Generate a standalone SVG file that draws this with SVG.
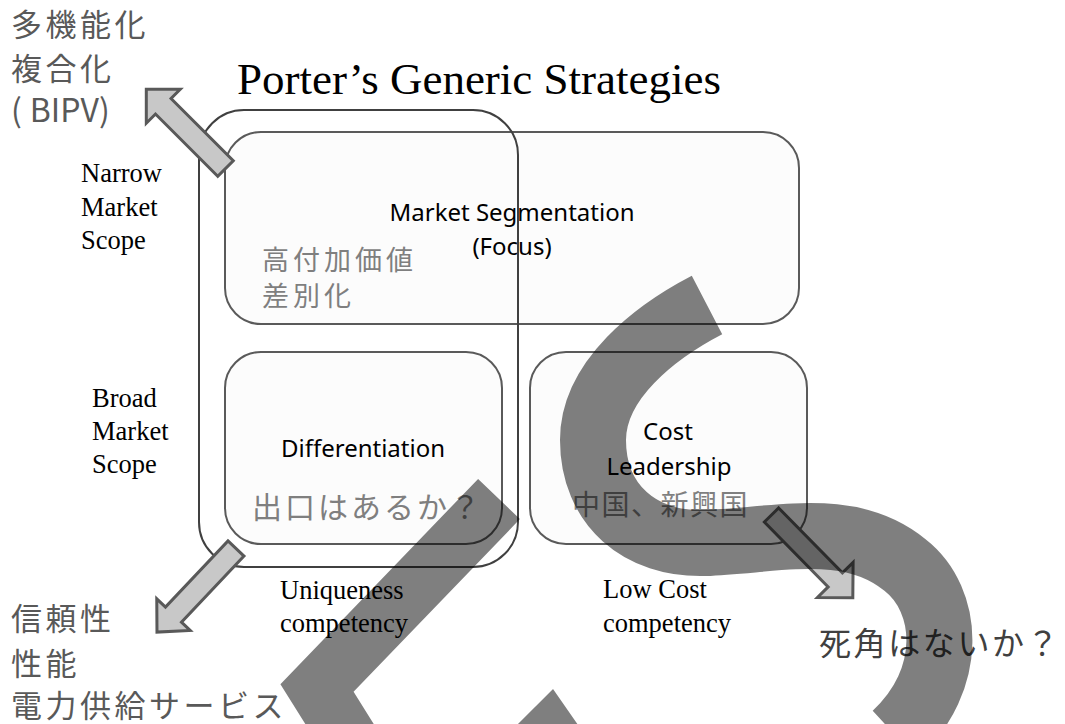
<svg xmlns="http://www.w3.org/2000/svg" width="1065" height="724" viewBox="0 0 1065 724">
<style>
.box{fill:#fcfcfc;stroke:#5a5a5a;stroke-width:2}
.outer{fill:none;stroke:#404040;stroke-width:2}
.serif{font-family:"Liberation Serif","Times New Roman",serif;fill:#000}
.lbl{font-family:"Noto Sans","Open Sans",sans-serif;fill:#000;font-size:24px;text-anchor:middle}
.jp{font-family:"Noto Sans CJK JP","Noto Sans",sans-serif}
.jpd{fill:#595959;font-size:31px;letter-spacing:3.5px}
.jpl{fill:#7f7f7f}
.arr{fill:#c8c8c8;stroke:#595959;stroke-width:3;stroke-linejoin:miter}
.band{fill:none;stroke:#000;stroke-opacity:0.5;stroke-linecap:butt;stroke-linejoin:miter;stroke-miterlimit:10}
</style>
<rect width="1065" height="724" fill="#fff"/>
<text class="serif" x="237" y="94" font-size="45">Porter’s Generic Strategies</text>
<g id="node-focus">
<rect class="box" x="225" y="132" width="574" height="192" rx="36"/>
<text class="lbl" x="512" y="221">Market Segmentation</text>
<text class="lbl" x="512" y="255">(Focus)</text>
<text class="jp jpl" x="262" y="270" font-size="27" letter-spacing="4">高付加価値</text>
<text class="jp jpl" x="262" y="306" font-size="27" letter-spacing="4">差別化</text>
</g>
<g id="node-differentiation">
<rect class="box" x="225" y="352" width="277" height="192" rx="36"/>
<text class="lbl" x="363" y="457">Differentiation</text>
<text class="jp jpl" x="252" y="518" font-size="30" letter-spacing="3">出口はあるか？</text>
</g>
<g id="node-cost">
<rect class="box" x="530" y="352" width="277" height="192" rx="36"/>
<text class="lbl" x="668" y="440">Cost</text>
<text class="lbl" x="669" y="475">Leadership</text>
<text class="jp jpl" x="572" y="515" font-size="28" letter-spacing="1.5">中国、新興国</text>
</g>
<g id="node-outer">
<rect class="outer" x="199" y="110" width="319" height="457" rx="45"/>
</g>
<g id="labels">
<text class="serif" font-size="26.5"><tspan x="81" y="182">Narrow</tspan><tspan x="81" y="215.5">Market</tspan><tspan x="81" y="249">Scope</tspan></text>
<text class="serif" font-size="26.5"><tspan x="92" y="407">Broad</tspan><tspan x="92" y="440">Market</tspan><tspan x="92" y="473">Scope</tspan></text>
<text class="serif" font-size="26.5"><tspan x="280" y="599">Uniqueness</tspan><tspan x="280" y="632">competency</tspan></text>
<text class="serif" font-size="26.5"><tspan x="603" y="598">Low Cost</tspan><tspan x="603" y="632">competency</tspan></text>
</g>
<g id="node-multi">
<text class="jp jpd" x="11" y="36">多機能化</text>
<text class="jp jpd" x="11" y="80">複合化</text>
<text class="jp" x="11" y="122" font-size="32" fill="#595959">(<tspan dx="8">BIPV)</tspan></text>
</g>
<g id="node-reliab">
<text class="jp jpd" x="11" y="630">信頼性</text>
<text class="jp jpd" x="11" y="675">性能</text>
<text class="jp jpd" x="11" y="717">電力供給サービス</text>
</g>
<g id="node-blind">
<text class="jp" x="819" y="655" font-size="32" letter-spacing="2.6" fill="#404040">死角はないか？</text>
</g>
<g id="connectors">
<polygon class="arr" transform="translate(225.5,168.5) rotate(-135)" points="0,-11 88,-11 88,-24 112,0 88,24 88,11 0,11"/>
<polygon class="arr" transform="translate(236,548.5) rotate(133.4)" points="0,-11 91,-11 91,-23 115,0 91,23 91,11 0,11"/>
<polygon class="arr" transform="translate(771.5,515) rotate(45.5)" points="0,-10 91,-10 91,-25 116,0 91,25 91,10 0,10"/>
</g>
<g id="bands">
<path class="band" stroke-width="66" d="M707,305 C655,332 593,380 593,440 C593,505 640,545 705,543 C780,540 850,520 905,565 C950,600 955,680 895,735"/>
<polyline class="band" stroke-width="58" points="499,499 317,688 424,859 549,734 663,898"/>
</g>
</svg>
